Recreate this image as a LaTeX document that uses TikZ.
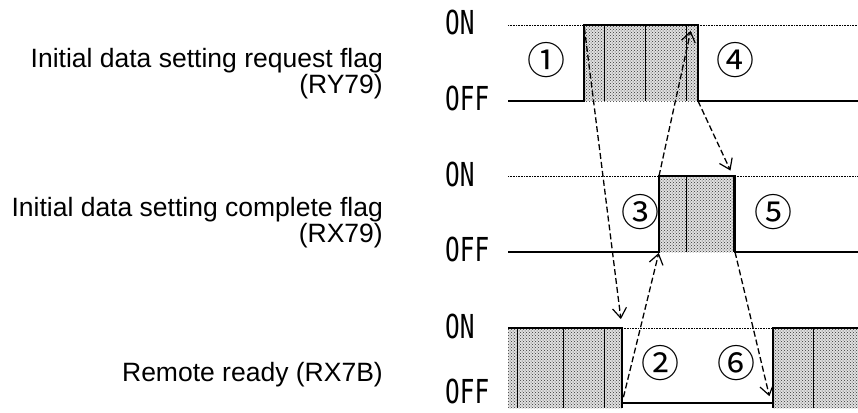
\documentclass[tikz,border=0pt]{standalone}
\usepackage{fontspec}
\setmainfont{Liberation Sans}
\newfontfamily\levelfont{DejaVu Sans Mono}
\newfontfamily\circfont{Noto Sans CJK JP}
\usetikzlibrary{arrows.meta,patterns}

\newcommand{\lvltext}[1]{\scalebox{0.74}[1]{#1}}

\tikzset{
  sig/.style={line width=1.4pt},
  onlvl/.style={densely dotted, line width=0.6pt},
  busy/.style={preaction={fill=black!12}, pattern=crosshatch dots, pattern color=black!80},
  sep/.style={line width=0.9pt},
  hand/.style={dash pattern=on 6pt off 3pt, line width=1.3pt,
    -{Straight Barb[length=10pt,width=14pt,line width=1.2pt]}},
  lbl/.style={align=right, anchor=east, inner sep=0pt,
    font=\fontsize{26.5}{26}\selectfont},
  lvl/.style={anchor=base west, inner sep=0pt,
    font=\levelfont\fontsize{33}{33}\selectfont},
  stepno/.style={inner sep=0pt, font=\circfont\fontsize{38}{38}\selectfont}
}

\begin{document}
\begin{tikzpicture}[x=1pt,y=-1pt]
\useasboundingbox (0,0) rectangle (858,412);

% signal names
\node[lbl] (ry79) at (383,74) {Initial data setting request flag\\(RY79)};
\node[lbl] (rx79) at (383,223) {Initial data setting complete flag\\(RX79)};
\node[lbl] (rx7b) at (383,375) {Remote ready (RX7B)};

% levels
\node[lvl] (on1) at (445,35) {\lvltext{ON}};
\node[lvl] (off1) at (445,110) {\lvltext{OFF}};
\node[lvl] (on2) at (445,186) {\lvltext{ON}};
\node[lvl] (off2) at (445,261) {\lvltext{OFF}};
\node[lvl] (on3) at (445,338) {\lvltext{ON}};
\node[lvl] (off3) at (445,403) {\lvltext{OFF}};

% edges of the pulses
\coordinate (a1) at (584,101);
\coordinate (b1) at (584,25);
\coordinate (c1) at (698,25);
\coordinate (d1) at (698,101);
\coordinate (a2) at (659,252);
\coordinate (b2) at (659,176);
\coordinate (c2) at (735,176);
\coordinate (d2) at (735,252);
\coordinate (a3) at (622,328);
\coordinate (b3) at (622,403);
\coordinate (c3) at (773,403);
\coordinate (d3) at (773,328);

% RY79
\fill[busy] (b1) rectangle (d1);
\foreach \x in {604,645,686} \draw[sep] (\x,25) -- (\x,101);
\draw[onlvl] (508,25) -- (b1) (c1) -- (858,25);
\draw[sig] (508,101) -- (a1) -- (b1) -- (c1) -- (d1) -- (858,101);

% RX79
\fill[busy] (b2) rectangle (d2);
\foreach \x in {686,733} \draw[sep] (\x,176) -- (\x,252);
\draw[onlvl] (508,176) -- (b2) (c2) -- (858,176);
\draw[sig] (508,252) -- (a2) -- (b2) -- (c2) -- (d2) -- (858,252);

% RX7B
\fill[busy] (508,328) rectangle (622,408);
\fill[busy] (d3) rectangle (858,408);
\foreach \x in {517,563,604,813} \draw[sep] (\x,328) -- (\x,408);
\draw[onlvl] (a3) -- (d3);
\draw[sig] (508,328) -- (a3) -- (b3) -- (c3) -- (d3) -- (858,328);
\draw[sig] (a3) -- (622,408);
\draw[sig] (d3) -- (773,408);

% handshake
\draw[hand, shorten <=3pt, shorten >=9pt] (b1) -- (a3);
\draw[hand, shorten <=6pt, shorten >=1pt] (b3) -- (a2);
\coordinate (t1) at (692,25);
\draw[hand, shorten >=6pt] (b2) -- (t1);
\coordinate (t2) at (733,176);
\draw[hand, shorten >=6pt] (d1) -- (t2);
\coordinate (t3) at (771,403);
\draw[hand, shorten >=7pt] (d2) -- (t3);

% steps
\node[stepno] (s1) at (546,60) {①};
\node[stepno] (s4) at (735,60) {④};
\node[stepno] (s3) at (640,212) {③};
\node[stepno] (s5) at (773,212) {⑤};
\node[stepno] (s2) at (660,363) {②};
\node[stepno] (s6) at (736,363) {⑥};
\end{tikzpicture}
\end{document}
